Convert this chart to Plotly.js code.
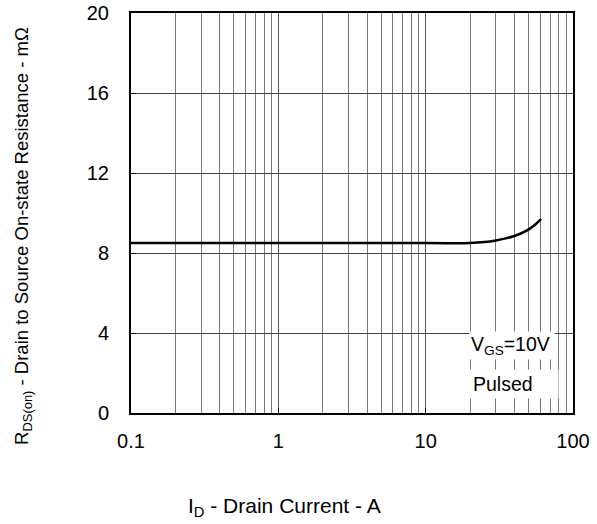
<!DOCTYPE html>
<html><head><meta charset="utf-8">
<script src="https://cdn.plot.ly/plotly-3.0.1.min.js"></script>
<style>body{margin:0;background:#fff}#c{width:597px;height:524px}</style>
</head><body><div id="c"></div>
<script>
const currentA = [0.1, 0.3, 1, 3, 10, 15, 20, 25, 30, 35, 40, 45, 51, 56, 60.7];
const rdsOn = [8.5, 8.5, 8.5, 8.5, 8.5, 8.49, 8.5, 8.55, 8.63, 8.73, 8.85, 9.0, 9.22, 9.45, 9.7];
const yTicks = [0, 4, 8, 12, 16, 20];
const xTicks = [0.1, 1, 10, 100];
const xTickText = ['0.1', '1', '10', '100'];
const FONT = 'Liberation Sans, Arial, sans-serif';

const trace = {
  x: currentA, y: rdsOn, type: 'scatter', mode: 'lines',
  line: {color: '#000', width: 2.5, shape: 'spline'}, hoverinfo: 'skip'
};
const layout = {
  width: 597, height: 524,
  margin: {l: 131, r: 24, t: 13, b: 111},
  paper_bgcolor: '#fff', plot_bgcolor: '#fff',
  showlegend: false,
  font: {family: FONT, size: 20, color: '#000'},
  xaxis: {
    type: 'log', range: [-1, 2],
    tickvals: xTicks, ticktext: xTickText,
    showgrid: true, gridcolor: '#555', gridwidth: 1,
    minor: {showgrid: true, gridcolor: '#777', gridwidth: 1, dtick: 'D1', ticks: ''},
    showline: true, linecolor: '#000', linewidth: 2, mirror: true,
    ticks: 'inside', ticklen: 5, tickcolor: '#000',
    ticklabelstandoff: 9,
    zeroline: false, tickfont: {size: 20}
  },
  yaxis: {
    range: [0, 20], tickvals: yTicks,
    showgrid: true, gridcolor: '#444', gridwidth: 1,
    showline: true, linecolor: '#000', linewidth: 2, mirror: true,
    ticks: 'inside', ticklen: 5, tickcolor: '#000',
    ticklabelstandoff: 16,
    zeroline: false, tickfont: {size: 20}
  },
  annotations: [
    {text: 'V<sub>GS</sub>=10V', xref: 'paper', yref: 'paper', x: 0.765, y: 0.168,
     xanchor: 'left', yanchor: 'middle', showarrow: false, align: 'left',
     bgcolor: '#fff', width: 82, borderpad: 1, font: {size: 19.5}},
    {text: 'Pulsed', xref: 'paper', yref: 'paper', x: 0.765, y: 0.073,
     xanchor: 'left', yanchor: 'middle', showarrow: false, align: 'left',
     bgcolor: '#fff', width: 82, borderpad: 3, font: {size: 19.5}},
    {text: 'I<sub>D</sub> - Drain Current - A', xref: 'paper', yref: 'paper',
     x: 0.348, y: -0.234, xanchor: 'center', yanchor: 'middle', showarrow: false,
     font: {size: 21}},
    {text: 'R<sub>DS(on)</sub> - Drain to Source On-state Resistance - mΩ', xref: 'paper', yref: 'paper',
     x: -0.244, y: 0.443, xanchor: 'center', yanchor: 'middle', showarrow: false,
     textangle: -90, font: {size: 18.5}}
  ]
};
Plotly.newPlot('c', [trace], layout, {staticPlot: true, displayModeBar: false});
</script></body></html>
